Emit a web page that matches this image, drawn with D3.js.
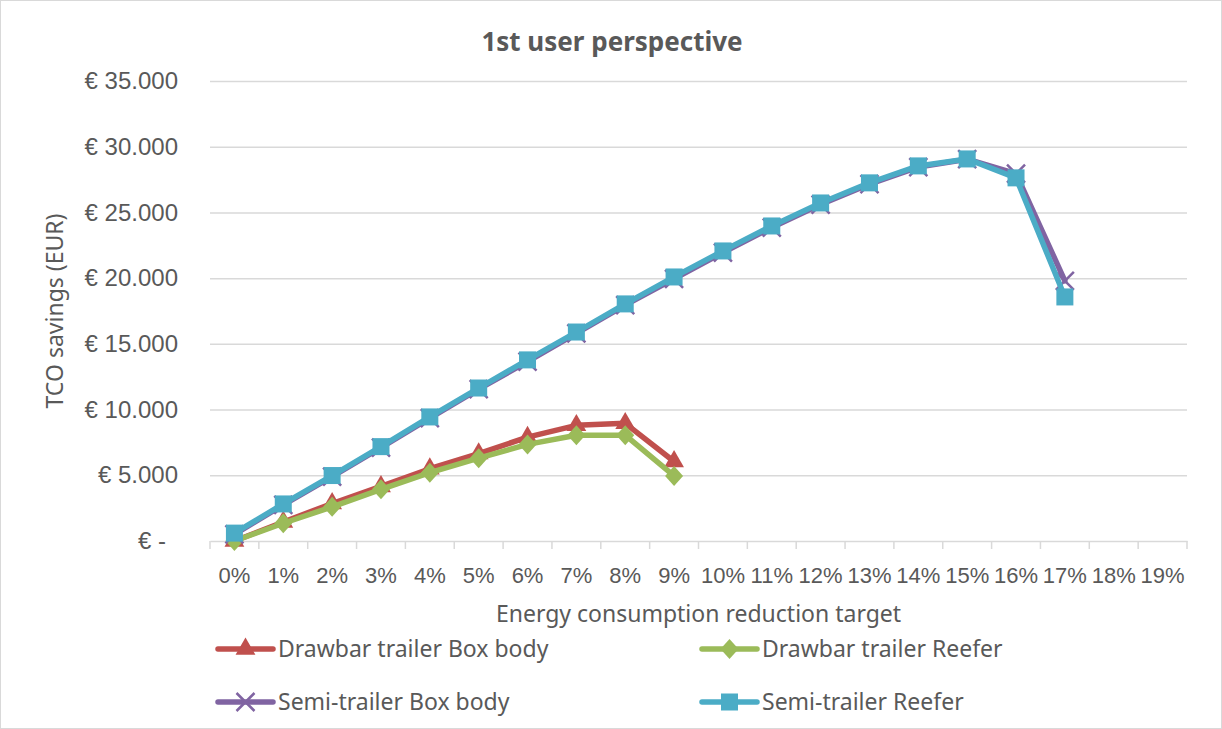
<!DOCTYPE html>
<html>
<head>
<meta charset="utf-8">
<script src="https://cdn.jsdelivr.net/npm/d3@7"></script>
<style>
  body { margin: 0; background: #fff; }
  svg { display: block; font-family: "Noto Sans", "Open Sans", sans-serif; }
</style>
</head>
<body>
<svg id="chart" width="1222" height="729"></svg>
<script>
// Categories: energy consumption reduction target
const categories = ["0%","1%","2%","3%","4%","5%","6%","7%","8%","9%","10%","11%","12%","13%","14%","15%","16%","17%","18%","19%"];

// TCO savings (EUR) per series
const drawbarBox    = [0, 1450, 2850, 4150, 5500, 6650, 7900, 8800, 8950, 6050];
const drawbarReefer = [0, 1350, 2600, 3930, 5200, 6300, 7350, 8050, 8050, 4950];
const semiBox       = [500, 2750, 4900, 7100, 9350, 11550, 13650, 15800, 17950, 19950, 21950, 23850, 25600, 27150, 28450, 29050, 27950, 19800];
const semiReefer    = [600, 2820, 4980, 7180, 9440, 11640, 13780, 15900, 18040, 20090, 22070, 23970, 25720, 27250, 28540, 29070, 27630, 18570];

const yTicks = [0, 5000, 10000, 15000, 20000, 25000, 30000, 35000];

const series = [
  { name: "Drawbar trailer Box body", values: drawbarBox,    color: "#C0504D", marker: "triangle" },
  { name: "Drawbar trailer Reefer",   values: drawbarReefer, color: "#9BBB59", marker: "diamond" },
  { name: "Semi-trailer Box body",    values: semiBox,       color: "#8064A2", marker: "cross" },
  { name: "Semi-trailer Reefer",      values: semiReefer,    color: "#4BACC6", marker: "square" }
];

const svg = d3.select("#chart");
const W = 1222, H = 729;
const textColor = "#595959";

// outer chart border
svg.append("rect").attr("x", 0.5).attr("y", 0.5).attr("width", W - 1).attr("height", H - 1)
  .attr("fill", "#fff").attr("stroke", "#d9d9d9");

const plot = { left: 210, right: 1187, top: 81, bottom: 541 };

const x = d3.scaleBand().domain(categories).range([plot.left, plot.right]).padding(0);
const y = d3.scaleLinear().domain([0, 35000]).range([plot.bottom, plot.top]);
const cx = c => x(c) + x.bandwidth() / 2;

// title
svg.append("text").attr("x", 612).attr("y", 51).attr("text-anchor", "middle")
  .attr("font-size", 26).attr("font-weight", "bold").attr("fill", textColor)
  .text("1st user perspective");

// horizontal gridlines
svg.append("g").selectAll("line").data(yTicks.slice(1)).join("line")
  .attr("x1", plot.left).attr("x2", plot.right)
  .attr("y1", d => y(d) + 0.5).attr("y2", d => y(d) + 0.5)
  .attr("stroke", "#d9d9d9").attr("stroke-width", 1.5);

// y axis labels
const fmt = d => d === 0 ? "€ -" : "€ " + d3.format(",")(d).replace(/,/g, ".");
const yAxis = d3.axisLeft(y).tickValues(yTicks).tickFormat(fmt).tickSize(0).tickPadding(32);
const yg = svg.append("g").attr("transform", `translate(${plot.left},0)`).call(yAxis);
yg.select(".domain").remove();
yg.selectAll("text").attr("font-size", 24).attr("fill", textColor).attr("font-family", null);
yg.selectAll(".tick").filter(d => d === 0).select("text").attr("dx", -12);

// x axis
const xAxis = d3.axisBottom(x).tickSize(0).tickPadding(26);
const xg = svg.append("g").attr("transform", `translate(0,${plot.bottom})`).call(xAxis);
xg.select(".domain").attr("stroke", "#d9d9d9").attr("stroke-width", 1.5);
xg.selectAll("text").attr("font-size", 22).attr("fill", textColor).attr("font-family", null);
// category boundary tick marks
const bounds = categories.map(c => x(c)).concat([plot.right]);
svg.append("g").selectAll("line").data(bounds).join("line")
  .attr("x1", d => d).attr("x2", d => d)
  .attr("y1", plot.bottom).attr("y2", plot.bottom + 8)
  .attr("stroke", "#d9d9d9").attr("stroke-width", 1.5);

// axis titles
svg.append("text").attr("transform", `translate(63,${(plot.top + plot.bottom) / 2}) rotate(-90)`)
  .attr("text-anchor", "middle").attr("font-size", 23).attr("fill", textColor)
  .text("TCO savings (EUR)");
svg.append("text").attr("x", (plot.left + plot.right) / 2).attr("y", 622)
  .attr("text-anchor", "middle").attr("font-size", 23).attr("fill", textColor)
  .text("Energy consumption reduction target");

// marker drawing
function drawMarker(g, type, color) {
  if (type === "triangle") {
    g.append("path").attr("d", d3.symbol(d3.symbolTriangle, 170)()).attr("fill", color);
  } else if (type === "diamond") {
    g.append("path").attr("d", "M0,-10L9,0L0,10L-9,0Z").attr("fill", color);
  } else if (type === "square") {
    g.append("rect").attr("x", -8.5).attr("y", -8.5).attr("width", 17).attr("height", 17).attr("fill", color);
  } else if (type === "cross") {
    g.append("path").attr("d", "M-9,-9L9,9M-9,9L9,-9").attr("stroke", color).attr("stroke-width", 2.5);
  }
}

const line = d3.line().x((d, i) => cx(categories[i])).y(d => y(d));

series.forEach(s => {
  const g = svg.append("g");
  g.append("path").datum(s.values).attr("d", line)
    .attr("fill", "none").attr("stroke", s.color).attr("stroke-width", 5.5)
    .attr("stroke-linejoin", "round").attr("stroke-linecap", "round");
  s.values.forEach((v, i) => {
    const m = g.append("g").attr("transform", `translate(${cx(categories[i])},${y(v)})`);
    drawMarker(m, s.marker, s.color);
  });
});

// legend
const legendPos = [
  { x: 218, y: 649 }, { x: 702, y: 649 },
  { x: 218, y: 702 }, { x: 702, y: 702 }
];
series.forEach((s, i) => {
  const p = legendPos[i];
  const g = svg.append("g").attr("transform", `translate(${p.x},${p.y})`);
  g.append("line").attr("x1", 0).attr("x2", 55).attr("y1", 0).attr("y2", 0)
    .attr("stroke", s.color).attr("stroke-width", 5.5).attr("stroke-linecap", "round");
  const m = g.append("g").attr("transform", "translate(27.5,0)");
  drawMarker(m, s.marker, s.color);
  g.append("text").attr("x", 60).attr("y", 0).attr("dy", "0.35em")
    .attr("font-size", 23).attr("fill", textColor).text(s.name);
});
</script>
</body>
</html>
